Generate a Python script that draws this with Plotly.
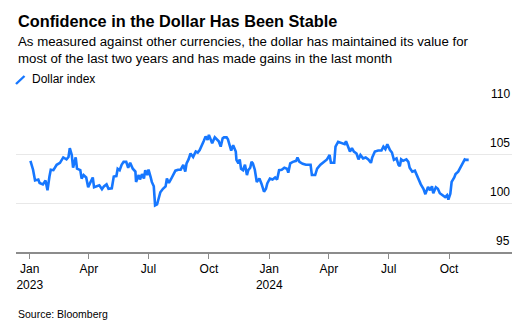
import plotly.graph_objects as go

# ---- data ----
dates = [
    "2023-01-02","2023-01-04","2023-01-06","2023-01-09","2023-01-14","2023-01-16","2023-01-21","2023-01-25",
    "2023-01-28","2023-01-31","2023-02-02","2023-02-06","2023-02-11","2023-02-16","2023-02-21","2023-02-26",
    "2023-03-01","2023-03-03","2023-03-06","2023-03-08","2023-03-11","2023-03-12","2023-03-14","2023-03-19",
    "2023-03-21","2023-03-24","2023-03-28","2023-03-31","2023-04-03","2023-04-07","2023-04-09","2023-04-13",
    "2023-04-17","2023-04-21","2023-04-24","2023-04-28","2023-05-01","2023-05-06","2023-05-09","2023-05-13",
    "2023-05-15","2023-05-18","2023-05-21","2023-05-24","2023-05-28","2023-05-31","2023-06-03","2023-06-07",
    "2023-06-11","2023-06-12","2023-06-16","2023-06-18","2023-06-21","2023-06-24","2023-06-26","2023-06-29",
    "2023-07-01","2023-07-04","2023-07-06","2023-07-09","2023-07-11","2023-07-14","2023-07-17","2023-07-19",
    "2023-07-23","2023-07-27","2023-07-29","2023-08-01","2023-08-04","2023-08-07","2023-08-11","2023-08-15",
    "2023-08-19","2023-08-23","2023-08-26","2023-08-28","2023-08-31","2023-09-03","2023-09-07","2023-09-11",
    "2023-09-14","2023-09-17","2023-09-21","2023-09-23","2023-09-26","2023-09-29","2023-10-01","2023-10-04",
    "2023-10-06","2023-10-10","2023-10-13","2023-10-16","2023-10-19","2023-10-22","2023-10-24","2023-10-28",
    "2023-10-30","2023-11-02","2023-11-04","2023-11-07","2023-11-11","2023-11-12","2023-11-15","2023-11-17",
    "2023-11-19","2023-11-22","2023-11-25","2023-11-28","2023-11-30","2023-12-03","2023-12-05","2023-12-07",
    "2023-12-10","2023-12-13","2023-12-17","2023-12-20","2023-12-24","2023-12-27","2023-12-29","2024-01-02",
    "2024-01-06","2024-01-10","2024-01-13","2024-01-16","2024-01-20","2024-01-24","2024-01-28","2024-01-30",
    "2024-02-02","2024-02-06","2024-02-11","2024-02-13","2024-02-16","2024-02-21","2024-02-26","2024-03-04",
    "2024-03-06","2024-03-11","2024-03-14","2024-03-19","2024-03-24","2024-03-29","2024-04-02","2024-04-04",
    "2024-04-09","2024-04-11","2024-04-15","2024-04-20","2024-04-25","2024-04-27","2024-04-30","2024-05-03",
    "2024-05-06","2024-05-09","2024-05-13","2024-05-16","2024-05-19","2024-05-23","2024-05-27","2024-05-31",
    "2024-06-04","2024-06-06","2024-06-10","2024-06-15","2024-06-20","2024-06-23","2024-06-26","2024-06-29",
    "2024-07-03","2024-07-06","2024-07-09","2024-07-13","2024-07-16","2024-07-18","2024-07-20","2024-07-23",
    "2024-07-28","2024-07-31","2024-08-02","2024-08-06","2024-08-10","2024-08-13","2024-08-15","2024-08-19",
    "2024-08-23","2024-08-26","2024-08-30","2024-09-02","2024-09-05","2024-09-07","2024-09-11","2024-09-14",
    "2024-09-17","2024-09-21","2024-09-25","2024-09-28","2024-09-30","2024-10-03","2024-10-05","2024-10-09",
    "2024-10-11","2024-10-15","2024-10-18","2024-10-21","2024-10-25","2024-10-27","2024-10-31",
]
dollar_index = [
    104.3,103.9,103.4,102.3,102.4,102.05,101.9,102.3,
    101.3,102.7,103.4,103.35,103.9,104.1,104.65,104.45,
    104.7,105.6,104.9,103.6,104.4,104.65,103.5,103.35,
    102.5,102.85,102.6,101.6,102.05,102.6,101.6,101.7,
    101.8,101.4,101.7,101.9,101.45,101.5,102.7,102.75,
    103.5,103.35,103.9,104.2,104.2,103.6,104.1,103.5,
    103.2,102.15,102.85,102.4,102.95,102.5,103.35,102.85,
    103.4,102.7,102.15,101.7,99.75,99.85,100.8,101.1,
    101.45,101.7,102.5,102.05,102.4,102.85,103.3,103.4,
    103.4,103.9,103.2,104.05,104.45,105.05,104.7,105.25,
    105.15,105.4,105.9,106.3,106.8,106.45,106.95,106.3,
    106.1,106.7,106.45,106.3,105.75,106.6,106.7,106.7,
    106.5,105.9,105.35,105.9,105.25,104.4,104.05,104.45,
    103.5,103.35,103.9,102.85,103.35,103.6,104.2,104.05,
    103.4,102.15,102.5,102.0,101.15,101.45,102.0,102.5,
    102.4,102.6,102.4,103.35,103.4,103.6,103.5,103.1,
    104.05,104.2,104.3,104.65,104.2,104.0,103.9,103.9,
    102.85,102.85,103.5,103.9,104.2,104.45,104.9,104.1,
    104.1,105.75,106.25,106.15,106.0,106.3,105.8,105.25,
    105.6,105.25,105.05,104.45,104.9,104.55,104.65,104.45,
    104.1,104.65,105.25,105.35,105.35,105.75,105.5,106.0,
    105.4,105.15,104.4,104.55,103.9,103.75,104.45,104.3,
    104.45,104.2,103.6,103.2,103.3,102.85,102.4,101.9,
    101.45,100.9,101.65,101.3,101.7,101.0,101.6,101.45,
    101.0,100.8,100.6,100.8,100.35,100.95,102.15,102.6,
    102.95,103.2,103.6,104.05,104.45,104.4,104.4,
]
x_tick_dates = ["2023-01-01","2023-04-01","2023-07-01","2023-10-01",
                "2024-01-01","2024-04-01","2024-07-01","2024-10-01"]
x_tick_labels = ["Jan<br>2023","Apr","Jul","Oct","Jan<br>2024","Apr","Jul","Oct"]
y_ticks = [95, 100, 105, 110]

title = "Confidence in the Dollar Has Been Stable"
subtitle = ("As measured against other currencies, the dollar has maintained its value for<br>"
            "most of the last two years and has made gains in the last month")
series_name = "Dollar index"
source = "Source: Bloomberg"

# ---- layout geometry ----
W, H = 527, 327
M_L, M_R, M_T, M_B = 16, 15, 105, 75
PLOT_H = H - M_T - M_B
FONT = "Liberation Sans, Arial, sans-serif"
BLUE = "#1677ff"


def py(y_px):
    """convert a pixel row to paper y"""
    return (H - M_B - y_px) / PLOT_H


fig = go.Figure()
fig.add_trace(go.Scatter(
    x=dates, y=dollar_index, mode="lines", name=series_name,
    line=dict(color=BLUE, width=2.6), showlegend=False,
))

annotations = [
    dict(text="<b>" + title + "</b>", x=0, y=py(21), xref="paper", yref="paper",
         xanchor="left", yanchor="middle", showarrow=False,
         font=dict(family=FONT, size=16.3, color="#000000")),
    dict(text=subtitle, x=0, y=py(50.5), xref="paper", yref="paper",
         xanchor="left", yanchor="middle", showarrow=False, align="left",
         font=dict(family=FONT, size=13.25, color="#000000")),
    dict(text=series_name, x=(30 - M_L) / (W - M_L - M_R), y=py(79.5), xref="paper", yref="paper",
         xanchor="left", yanchor="middle", showarrow=False,
         font=dict(family=FONT, size=12, color="#000000")),
    dict(text=source, x=0, y=py(314), xref="paper", yref="paper",
         xanchor="left", yanchor="middle", showarrow=False,
         font=dict(family=FONT, size=10.5, color="#000000")),
]
for v in y_ticks:
    annotations.append(dict(
        text=str(v), x=1, y=v, xref="paper", yref="y", xanchor="right", yanchor="bottom",
        yshift=2, showarrow=False, font=dict(family=FONT, size=12, color="#000000")))

shapes = [
    dict(type="line", xref="paper", yref="paper",
         x0=0, x1=(24.5 - M_L) / (W - M_L - M_R), y0=py(84), y1=py(76),
         line=dict(color=BLUE, width=2.4)),
]

fig.update_layout(
    width=W, height=H,
    margin=dict(l=M_L, r=M_R, t=M_T, b=M_B, pad=0),
    paper_bgcolor="white", plot_bgcolor="white",
    showlegend=False,
    annotations=annotations,
    shapes=shapes,
    xaxis=dict(
        type="date", range=["2022-12-11", "2025-01-05"],
        tickvals=x_tick_dates, ticktext=x_tick_labels,
        ticks="outside", ticklen=5, tickwidth=1.2, tickcolor="#8c8c8c",
        showline=True, linecolor="#8c8c8c", linewidth=2,
        showgrid=False, zeroline=False,
        tickfont=dict(family=FONT, size=12, color="#000000"),
    ),
    yaxis=dict(
        range=[95, 110], tickvals=y_ticks, showticklabels=False,
        showgrid=True, gridcolor="#e8e8e8", gridwidth=1,
        zeroline=False, showline=False, ticks="",
    ),
)

fig.write_html("out.html")
